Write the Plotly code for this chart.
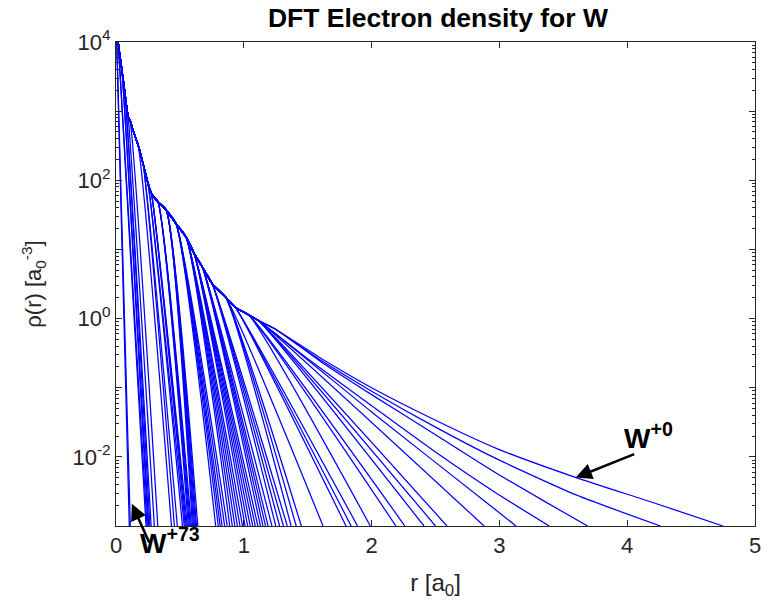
import plotly.graph_objects as go

# ---- data ----
# common (neutral-atom) envelope: radius [a0] and log10 density
ENV_R = [0.000, 0.018, 0.045, 0.070, 0.095, 0.109, 0.134, 0.173, 0.212, 0.251,
         0.277, 0.328, 0.393, 0.470, 0.548, 0.612, 0.677, 0.754, 0.858, 0.935,
         1.040, 1.116, 1.245]
ENV_LOG = [4.40, 3.98, 3.61, 3.26, 2.92, 2.87, 2.72, 2.51, 2.24, 1.95,
           1.81, 1.69, 1.57, 1.37, 1.18, 0.94, 0.74, 0.50, 0.31, 0.16,
           0.05, -0.03, -0.15]

# charge state q = 0..73 : radius where the curve leaves the envelope
DEP_R = [
    1.245, 1.245, 1.245, 1.116, 1.116, 1.116, 1.116, 1.116, 1.116, 1.040,   # 0-9
    1.040, 1.040, 0.935, 0.935, 0.935, 0.858, 0.858, 0.858, 0.858, 0.754,   # 10-19
    0.754, 0.754, 0.754, 0.677, 0.677, 0.677, 0.677, 0.677, 0.612, 0.612,   # 20-29
    0.612, 0.612, 0.612, 0.612, 0.548, 0.548, 0.548, 0.548, 0.548, 0.548,   # 30-39
    0.470, 0.470, 0.470, 0.470, 0.470, 0.470,                               # 40-45
    0.393, 0.393, 0.393, 0.393, 0.393, 0.393, 0.328, 0.328, 0.328, 0.328,   # 46-55
    0.277, 0.277, 0.277, 0.251, 0.251, 0.212, 0.212, 0.173,                 # 56-63
    0.109, 0.095, 0.070, 0.070, 0.045, 0.045, 0.018, 0.018,                 # 64-71
    0.000, 0.000]                                                           # 72-73

# charge state q = 0..73 : radius where the curve reaches 1e-3
END_R = [
    4.75, 4.26, 3.69, 3.39, 3.13, 2.88, 2.59, 2.50, 2.41, 2.26,   # 0-9
    2.19, 1.99, 1.89, 1.84, 1.80, 1.62, 1.45, 1.41, 1.37, 1.34,   # 10-19
    1.31, 1.28, 1.25, 1.22, 1.19, 1.17, 1.15, 1.13, 1.11, 1.09,   # 20-29
    1.07, 1.05, 1.03, 1.01, 0.99, 0.97, 0.95, 0.93, 0.91, 0.89,   # 30-39
    0.87, 0.85, 0.83, 0.815, 0.80, 0.78,                           # 40-45
    0.640, 0.630, 0.622, 0.614, 0.606, 0.598, 0.590, 0.582, 0.574,  # 46-54
    0.566, 0.558, 0.550, 0.542, 0.534, 0.520, 0.480, 0.457, 0.434,  # 55-63
    0.327, 0.300, 0.275, 0.265, 0.257, 0.250, 0.243, 0.235,        # 64-71
    0.112, 0.104]                                                  # 72-73

# extra tail points (r, log10 rho) between departure and end, outermost curves
TAIL_R = {
    0: [1.60, 2.00, 2.50, 2.98, 3.60, 4.20],
    1: [1.60, 2.00, 2.50, 2.98, 3.60],
    2: [1.60, 2.00, 2.50, 2.98, 3.35],
    3: [1.50, 2.00, 2.50, 2.98],
    4: [2.00, 2.98],
}
TAIL_LOG = {
    0: [-0.57, -1.00, -1.47, -1.88, -2.30, -2.66],
    1: [-0.60, -1.05, -1.57, -2.03, -2.55],
    2: [-0.62, -1.10, -1.68, -2.24, -2.64],
    3: [-0.58, -1.26, -1.93, -2.53],
    4: [-1.35, -2.78],
}
END_LOG = -3.0

fig = go.Figure()
for q in range(74):
    k = ENV_R.index(DEP_R[q])
    xs = ENV_R[:k + 1] + TAIL_R.get(q, []) + [END_R[q]]
    ls = ENV_LOG[:k + 1] + TAIL_LOG.get(q, []) + [END_LOG]
    ys = [10 ** v for v in ls]
    fig.add_trace(go.Scatter(x=xs, y=ys, mode="lines",
                             line=dict(color="#0000ff", width=1.25, shape="spline", smoothing=0.6),
                             name=f"W+{q}", showlegend=False, hoverinfo="skip"))

FONT = "Liberation Sans, Arial, sans-serif"
AX = "#262626"
major = [10.0 ** e for e in range(-3, 5)]
major_txt = ["", "10<sup>-2</sup>", "", "10<sup>0</sup>", "", "10<sup>2</sup>", "", "10<sup>4</sup>"]
minor = [m * 10.0 ** e for e in range(-3, 4) for m in range(2, 10)]

fig.update_layout(
    width=769, height=607,
    margin=dict(l=116, r=8, t=42, b=81),
    paper_bgcolor="white", plot_bgcolor="white",
    font=dict(family=FONT, size=22, color=AX),
    title=dict(text="<b>DFT Electron density for W</b>", x=0.5695, xanchor="center",
               y=0.970, yanchor="middle", font=dict(size=26.5, color="black")),
    xaxis=dict(range=[0, 5], tickvals=[0, 1, 2, 3, 4, 5], ticks="inside", ticklen=6,
               tickcolor=AX, showline=True, linecolor=AX, linewidth=1, mirror="ticks",
               showgrid=False, zeroline=False,
               title=dict(text="r [a<sub>0</sub>]", standoff=16, font=dict(size=24)),
               tickfont=dict(size=22)),
    yaxis=dict(type="log", range=[-3, 4], tickvals=major, ticktext=major_txt,
               ticks="inside", ticklen=6, tickcolor=AX, showline=True, linecolor=AX,
               linewidth=1, mirror="ticks", showgrid=False, zeroline=False,
               minor=dict(tickvals=minor, ticks="inside", ticklen=3, tickcolor=AX, showgrid=False),
               title=dict(text="ρ(r) [a<sub>0</sub><sup>-3</sup>]", standoff=24, font=dict(size=22)),
               tickfont=dict(size=22)),
    annotations=[
        dict(x=3.597, y=-2.30, xref="x", yref="y", text="", showarrow=True,
             ax=60, ay=-24, arrowhead=2, arrowsize=1.3, arrowwidth=2.5, arrowcolor="black"),
        dict(x=4.17, y=-1.70, xref="x", yref="y", text="<b>W<sup>+0</sup></b>",
             showarrow=False, font=dict(size=28, color="black")),
        dict(x=0.124, y=-2.68, xref="x", yref="y", text="", showarrow=True,
             ax=18, ay=40, arrowhead=2, arrowsize=1.3, arrowwidth=2.5, arrowcolor="black"),
        dict(x=0.426, y=-0.072, xref="x", yref="paper", text="<b>W<sup>+73</sup></b>",
             showarrow=False, font=dict(size=28, color="black")),
    ],
)

fig.write_html("out.html")
